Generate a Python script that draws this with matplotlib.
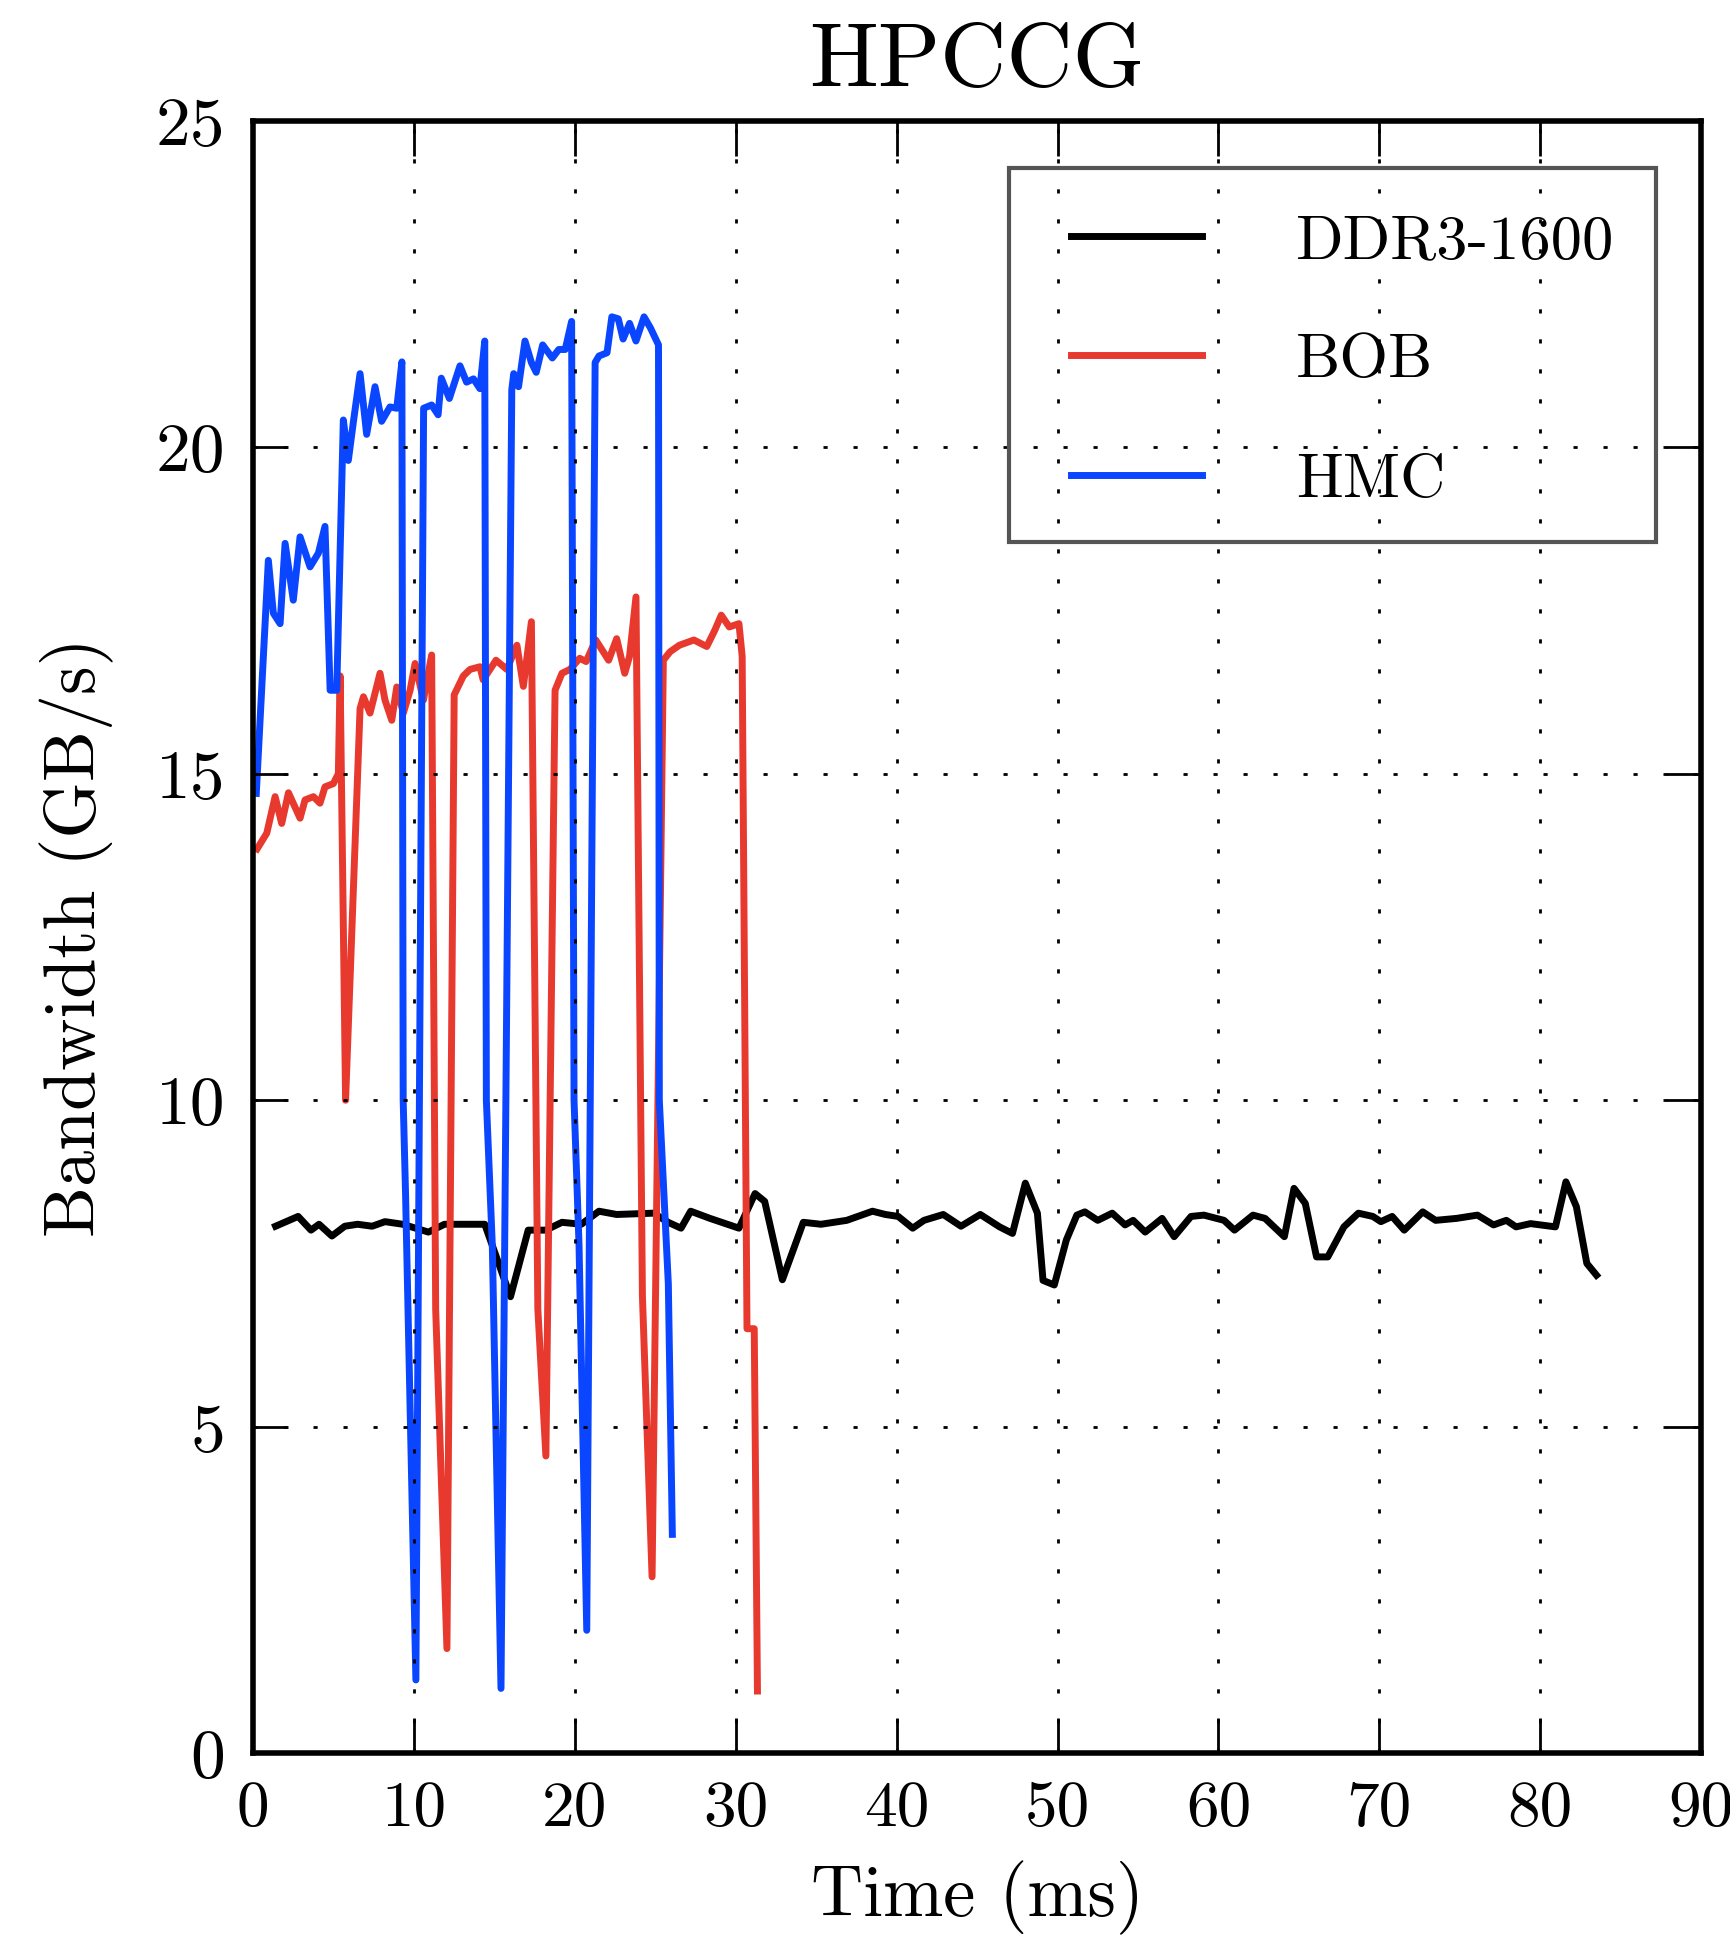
import numpy as np
import matplotlib
matplotlib.use('Agg')
import matplotlib.pyplot as plt
from matplotlib.patches import Rectangle

# LaTeX-Look: Computer Modern
plt.rcParams['font.family'] = 'cmr10'
plt.rcParams['mathtext.fontset'] = 'cm'
plt.rcParams['axes.unicode_minus'] = False

# DDR3-1600 (schwarz)
t_ddr = [1.4, 2.8, 3.6, 4.1, 4.9, 5.7, 6.5, 7.4, 8.2, 9.3, 10.9, 11.9, 14.4, 16.0,
         17.1, 18.2, 19.2, 20.4, 21.5, 22.6, 24.9, 25.8, 26.6, 27.2, 28.4, 30.2,
         31.2, 31.8, 32.9, 34.2, 35.3, 36.9, 38.5, 39.3, 40.1, 41.0, 41.7, 42.9,
         44.0, 45.2, 46.4, 47.2, 48.0, 48.75, 49.1, 49.8, 50.55, 51.2, 51.7, 52.5,
         53.4, 54.2, 54.7, 55.45, 56.5, 57.25, 58.3, 59.1, 60.35, 61.0, 62.15, 62.9,
         64.1, 64.7, 65.4, 66.1, 66.8, 67.8, 68.7, 69.6, 70.1, 70.8, 71.55, 72.7,
         73.5, 74.8, 76.1, 77.1, 77.9, 78.5, 79.4, 80.95, 81.6, 82.25, 82.9, 83.5]
v_ddr = [8.07, 8.22, 8.01, 8.1, 7.92, 8.07, 8.1, 8.07, 8.14, 8.1, 7.98, 8.1, 8.1, 6.99,
         8.01, 8.01, 8.13, 8.1, 8.3, 8.25, 8.27, 8.13, 8.04, 8.3, 8.19, 8.04,
         8.57, 8.45, 7.25, 8.13, 8.1, 8.16, 8.3, 8.25, 8.22, 8.04, 8.16, 8.25,
         8.07, 8.25, 8.06, 7.96, 8.73, 8.27, 7.24, 7.17, 7.86, 8.24, 8.29, 8.16,
         8.27, 8.09, 8.16, 7.98, 8.19, 7.91, 8.22, 8.24, 8.16, 8.01, 8.24, 8.19,
         7.91, 8.65, 8.42, 7.60, 7.60, 8.06, 8.27, 8.22, 8.14, 8.22, 8.01, 8.29,
         8.16, 8.19, 8.24, 8.09, 8.16, 8.06, 8.11, 8.06, 8.75, 8.37, 7.50, 7.32]

# BOB (rot)
t_bob = [0.25, 0.85, 1.37, 1.78, 2.2, 2.92, 3.23, 3.75, 4.16, 4.47, 4.99, 5.3, 5.41,
         5.75, 6.65, 6.86, 7.27, 7.89, 8.2, 8.62, 8.93, 9.34, 9.76, 10.07, 10.59,
         11.1, 11.35, 12.05, 12.5, 13.07, 13.49, 14.1, 14.3, 15.1, 15.77, 16.4,
         16.8, 17.3, 17.7, 18.2, 18.77, 19.2, 19.7, 20.3, 20.7, 21.3, 22.1, 22.6,
         23.1, 23.4, 23.8, 24.2, 24.8, 25.5, 25.92, 26.5, 27.4, 28.2, 28.7, 29.1,
         29.6, 30.2, 30.4, 30.7, 31.15, 31.35]
v_bob = [13.85, 14.09, 14.65, 14.24, 14.71, 14.32, 14.6, 14.65, 14.55, 14.8, 14.85, 15.0, 16.5,
         10.0, 16.0, 16.18, 15.93, 16.54, 16.13, 15.82, 16.33, 15.93, 16.28, 16.69, 16.13,
         16.82, 6.8, 1.6, 16.21, 16.5, 16.6, 16.64, 16.44, 16.74, 16.6, 16.97,
         16.34, 17.33, 6.8, 4.55, 16.28, 16.54, 16.6, 16.77, 16.72, 17.05, 16.74, 17.07,
         16.54, 16.8, 17.71, 7.0, 2.7, 16.74, 16.87, 16.97, 17.05, 16.95, 17.2, 17.43,
         17.25, 17.3, 16.8, 6.5, 6.5, 0.95]

# HMC (blau)
t_hmc = [0.2, 0.95, 1.26, 1.68, 1.99, 2.5, 2.92, 3.54, 4.06, 4.47, 4.79, 5.2, 5.61,
         5.92, 6.24, 6.65, 7.06, 7.58, 7.99, 8.51, 8.93, 9.25, 9.33, 9.48, 10.12,
         10.6, 11.1, 11.5, 11.7, 12.2, 12.86, 13.27, 13.7, 14.1, 14.4, 14.5, 14.87,
         15.41, 16.08, 16.2, 16.5, 16.9, 17.3, 17.6, 18.0, 18.6, 19.0, 19.4, 19.8,
         19.95, 20.26, 20.74, 21.26, 21.5, 22.0, 22.3, 22.7, 23.0, 23.4, 23.8, 24.3,
         24.7, 25.2, 25.25, 25.81, 26.06]
v_hmc = [14.7, 18.27, 17.46, 17.3, 18.53, 17.66, 18.63, 18.17, 18.38, 18.79, 16.28, 16.28, 20.42,
         19.8, 20.4, 21.13, 20.2, 20.93, 20.4, 20.62, 20.6, 21.31, 10.0, 8.54, 1.12,
         20.6, 20.65, 20.5, 21.06, 20.75, 21.25, 21.0, 21.05, 20.9, 21.63, 10.0, 7.78,
         0.99, 20.88, 21.13, 20.93, 21.63, 21.3, 21.15, 21.57, 21.37, 21.5, 21.5, 21.93,
         10.0, 7.78, 1.88, 21.3, 21.4, 21.45, 22.0, 21.97, 21.66, 21.9, 21.63, 22.0,
         21.83, 21.57, 10.0, 7.19, 3.35]

x_ticks = [0, 10, 20, 30, 40, 50, 60, 70, 80, 90]
y_ticks = [0, 5, 10, 15, 20, 25]

fig = plt.figure(figsize=(17.31, 19.36), dpi=100)
ax = fig.add_axes([0.1462, 0.0945, 0.8365, 0.843])

ax.plot(t_ddr, v_ddr, color='black', lw=5, label='DDR3-1600')
ax.plot(t_bob, v_bob, color='#e8392f', lw=5, label='BOB')
ax.plot(t_hmc, v_hmc, color='#0a45ff', lw=5, label='HMC')

ax.set_xlim(0, 90)
ax.set_ylim(0, 25)
ax.set_xticks(x_ticks)
ax.set_yticks(y_ticks)

# Gitter gepunktet und ueber den Linien (wie classic style)
ax.set_axisbelow(False)
ax.grid(True, color='black', linestyle=(0, (1.5, 9.3)), linewidth=2)

ax.tick_params(direction='in', length=25, width=2, top=True, right=True, pad=20)
ax.tick_params(axis='x', labelsize=47)
ax.tick_params(axis='y', labelsize=50)
for s in ax.spines.values():
    s.set_linewidth(4)

ax.set_title('HPCCG', fontsize=66, pad=25)
ax.set_xlabel('Time (ms)', fontsize=52, labelpad=16)
ax.set_ylabel('Bandwidth (GB/s)', fontsize=52, labelpad=30)

# Legendenrahmen separat, Gitter bleibt darin sichtbar
frame = Rectangle((0.522, 0.742), 0.447, 0.229, transform=ax.transAxes,
                  fill=False, edgecolor='#555555', lw=3, zorder=4)
ax.add_patch(frame)
leg = ax.legend(loc='upper left', bbox_to_anchor=(0.5477, 0.9583), fontsize=45,
                handlelength=2.1, handletextpad=1.5, labelspacing=1.02,
                borderpad=0.4, borderaxespad=0, frameon=False)

fig.savefig('out.png', dpi=100)
